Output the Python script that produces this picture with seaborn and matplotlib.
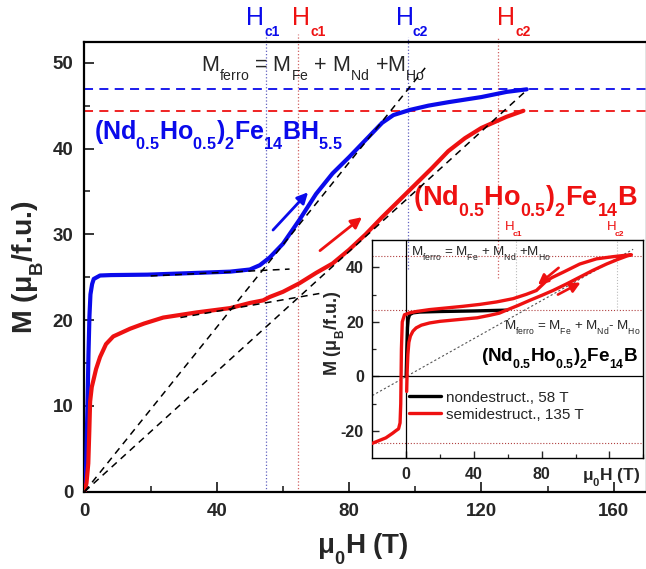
import matplotlib
matplotlib.use("Agg")
import matplotlib.pyplot as plt
from matplotlib.ticker import MultipleLocator, FixedLocator
import matplotlib._mathtext as _mt
import seaborn as sns
import pandas as pd

# Origin-style subscripts: lower and slightly smaller than matplotlib's default
_mt.FontConstantsBase.sub1 = 0.75
_mt.SHRINK_FACTOR = 0.65

# ---------------- data ----------------
blue_H = [0, 0.5, 0.9, 1.2, 1.5, 1.8, 2.3, 2.8, 4.7, 8, 19, 30, 44, 50, 53, 56, 60, 65, 70, 75,
          80, 85, 90, 93.4, 98.4, 104, 110, 120, 127.6, 133.7]
blue_M = [0, 3, 10, 16, 20.5, 23, 24.2, 24.8, 25.2, 25.25, 25.3, 25.45, 25.65, 25.9, 26.4, 27.3,
          28.9, 31.7, 34.7, 37.1, 39.0, 41.0, 43.0, 43.9, 44.5, 45.0, 45.4, 46.0, 46.6, 46.9]

red_H = [0, 0.6, 1.15, 1.45, 1.7, 2.2, 2.7, 3.5, 4.7, 6.5, 8.7, 13.8, 18, 23.8, 33.9, 44, 50, 54,
         56, 60, 65, 70, 75, 80, 85, 90, 95, 100, 105, 110, 115, 120, 127.6, 132.7]
red_M = [0, 1, 3.3, 7, 10.5, 12.2, 13.0, 14.3, 15.7, 17.2, 18.1, 19.0, 19.6, 20.3, 20.9, 21.4, 22.0,
         22.3, 22.7, 23.3, 24.3, 25.5, 26.6, 28.2, 30.0, 32.0, 33.9, 35.8, 37.7, 39.7, 41.2, 42.4,
         43.7, 44.4]

# linear extrapolations (dashed)
fitA_H = [0, 103]
fitA_M = [0, 49.4]
fitB_H = [0, 134]
fitB_M = [0, 46.9]
plateau_blue_H = [20, 62]
plateau_blue_M = [25.15, 25.95]
plateau_red_H = [29, 71]
plateau_red_M = [20.3, 23.1]

M_sat_blue = 46.9
M_sat_red = 44.4
Hc_blue = [54.8, 97.8]
Hc_red = [64.5, 125.0]

# inset
ins_black_H = [0, 0.4, 0.8, 1.2, 2, 4, 7.9, 20, 40, 59.6]
ins_black_M = [0, 10, 18, 21, 22.6, 23.3, 23.6, 23.8, 24.0, 24.3]

ins_red_H = [0.3, 0.6, 1.0, 1.6, 2.5, 4, 5.9, 9, 13.8, 20, 33.5, 42, 49.3, 55, 59.2, 66, 73, 80,
             86.7, 95, 102.5, 110, 118.3, 125, 130.2, 133,
             128, 122.3, 112.4, 102.5, 92.7, 86, 82.8, 79.9, 76.9, 71, 63.1, 53.3, 43.4, 33.5,
             23.7, 13.8, 6, 2, -1, -2.3, -2.8, -3.0, -3.2, -3.6, -4.5, -5.9, -8, -12, -16, -20]
ins_red_M = [-5.5, 2, 8, 12.5, 14.8, 16.6, 17.8, 18.8, 19.6, 20.2, 21.0, 21.5, 22.4, 23.2, 24.3,
             26.0, 27.9, 29.7, 31.5, 34.0, 36.4, 38.8, 41.2, 42.9, 44.1, 44.6,
             44.3, 43.9, 43.1, 41.2, 38.2, 36.2, 35.0, 33.3, 31.5, 30.1, 28.5, 27.3, 26.4, 25.7,
             25.1, 24.5, 23.8, 23.3, 22.6, 20, 10, 0, -10, -17, -19.2, -19.8, -20.8, -22.5, -23.5,
             -24.5]
ins_levels = [44.3, 24.2, -24.2]
ins_fit_H = [-20, 134]
ins_fit_M = [-7, 46.6]
ins_Hc = [64.6, 124.4]

legend_labels = ["nondestruct., 58 T", "semidestruct., 135 T"]
main_xticks = [0, 40, 80, 120, 160]
main_yticks = [0, 10, 20, 30, 40, 50]
ins_xticks = [0, 40, 80, 120]
ins_xticklabels = ["0", "40", "80", ""]
ins_yticks = [-20, 0, 20, 40]

# ---------------- style ----------------
sns.set_style("ticks")
plt.rcParams["font.family"] = ["Liberation Sans", "DejaVu Sans"]
plt.rcParams["mathtext.fontset"] = "custom"
plt.rcParams["mathtext.rm"] = "Liberation Sans"
plt.rcParams["mathtext.bf"] = "Liberation Sans:bold"
plt.rcParams["mathtext.it"] = "Liberation Sans:italic"
plt.rcParams["mathtext.sf"] = "Liberation Sans"

BLUE = "#0A0AEB"
RED = "#EE1111"

fig = plt.figure(figsize=(6.46, 5.69), dpi=100)
ax = fig.add_axes([0.1308, 0.1358, 0.8704, 0.7909])

# horizontal saturation levels
ax.axhline(M_sat_blue, color=BLUE, lw=1.3, ls=(0, (5, 3.5)), zorder=1)
ax.axhline(M_sat_red, color=RED, lw=1.3, ls=(0, (5, 3.5)), zorder=1)

# critical field dotted lines
ax.plot([Hc_blue[0]] * 2, [0, 53.3], color="#6060C0", lw=0.9, ls=":", clip_on=False, zorder=1)
ax.plot([Hc_red[0]] * 2, [0, 53.3], color="#D06060", lw=0.9, ls=":", clip_on=False, zorder=1)
ax.plot([Hc_blue[1]] * 2, [26.0, 53.0], color="#6060C0", lw=0.9, ls=":", clip_on=False, zorder=1)
ax.plot([Hc_red[1]] * 2, [24.9, 53.0], color="#D06060", lw=0.9, ls=":", clip_on=False, zorder=1)

# black dashed fits
for hx, my in [(fitA_H, fitA_M), (fitB_H, fitB_M), (plateau_blue_H, plateau_blue_M),
               (plateau_red_H, plateau_red_M)]:
    sns.lineplot(x=hx, y=my, ax=ax, color="black", lw=1.1, linestyle=(0, (4.5, 3.5)),
                 sort=False, estimator=None, zorder=4)

df_blue = pd.DataFrame({"H": blue_H, "M": blue_M})
df_red = pd.DataFrame({"H": red_H, "M": red_M})
sns.lineplot(data=df_blue, x="H", y="M", ax=ax, color=BLUE, lw=3.0, sort=False,
             estimator=None, zorder=3)
sns.lineplot(data=df_red, x="H", y="M", ax=ax, color=RED, lw=3.0, sort=False,
             estimator=None, zorder=3)

# arrows
ax.annotate("", xy=(67.6, 34.9), xytext=(57, 30.5),
            arrowprops=dict(arrowstyle="-|>", color=BLUE, lw=2.0, mutation_scale=16, shrinkA=0, shrinkB=0))
ax.annotate("", xy=(83.9, 32.0), xytext=(71.2, 28.1),
            arrowprops=dict(arrowstyle="-|>", color=RED, lw=2.0, mutation_scale=16, shrinkA=0, shrinkB=0))

ax.set_xlim(0, 170)
ax.set_ylim(0, 52.45)
ax.set_xticks(main_xticks)
ax.set_xticklabels([str(v) for v in main_xticks], fontweight="bold", fontsize=13.5)
ax.set_yticks(main_yticks)
ax.set_yticklabels([str(v) for v in main_yticks], fontweight="bold", fontsize=13.5)
ax.xaxis.set_minor_locator(MultipleLocator(20))
ax.yaxis.set_minor_locator(MultipleLocator(5))
ax.tick_params(which="major", direction="in", length=7, width=1.3, pad=8,
               top=False, right=False)
ax.tick_params(which="minor", direction="in", length=4, width=1.2, top=False, right=False)
for s in ax.spines.values():
    s.set_linewidth(1.6)
    s.set_color("black")

ax.set_xlabel("μ$_\\mathbf{0}$H (T)", fontsize=20, fontweight="bold")
ax.xaxis.set_label_coords(0.496, -0.089)
ax.set_ylabel("M (μ$_\\mathbf{B}$/f.u.)", fontsize=20.5, fontweight="bold")
ax.yaxis.set_label_coords(-0.068, 0.5)

# H_c labels above the axes
for xH, xc, col, sub in [(48.7, 54.3, BLUE, "c1"), (62.6, 68.2, RED, "c1"),
                         (94.1, 99.3, BLUE, "c2"), (124.8, 130.2, RED, "c2")]:
    ax.text(xH, 54.4, "H", color=col, fontsize=18, clip_on=False, va="baseline", ha="left")
    ax.text(xc, 53.1, sub, color=col, fontsize=10, fontweight="bold", clip_on=False,
            va="baseline", ha="left")

ax.text(69.1, 49.0, "M$_\\mathrm{ferro}$ = M$_\\mathrm{Fe}$ + M$_\\mathrm{Nd}$ +M$_\\mathrm{Ho}$",
        fontsize=15.5, ha="center", va="baseline")
ax.text(40.5, 41.0, "(Nd$_\\mathbf{0.5}$Ho$_\\mathbf{0.5}$)$_\\mathbf{2}$Fe$_\\mathbf{14}$BH$_\\mathbf{5.5}$",
        fontsize=18, fontweight="bold", color=BLUE, ha="center", va="baseline")
ax.text(133.4, 33.3, "(Nd$_\\mathbf{0.5}$Ho$_\\mathbf{0.5}$)$_\\mathbf{2}$Fe$_\\mathbf{14}$B",
        fontsize=19.5, fontweight="bold", color=RED, ha="center", va="baseline")

# ---------------- inset ----------------
ai = fig.add_axes([0.5763, 0.1945, 0.4195, 0.3837], facecolor="none")
for lv in ins_levels:
    ai.axhline(lv, color="#B04040", lw=0.8, ls=":", zorder=1)
for hc in ins_Hc:
    ai.plot([hc, hc], [24.2, 50], color="#BBBBBB", lw=0.8, ls=":", zorder=1)
ai.axhline(0, color="black", lw=0.9, zorder=1)
ai.axvline(0, color="black", lw=0.9, zorder=1)
sns.lineplot(x=ins_fit_H, y=ins_fit_M, ax=ai, color="#555555", lw=0.8, linestyle=(0, (2, 2)),
             sort=False, estimator=None, zorder=2)
sns.lineplot(x=ins_black_H, y=ins_black_M, ax=ai, color="black", lw=2.4, sort=False,
             estimator=None, zorder=3, label=legend_labels[0])
sns.lineplot(x=ins_red_H, y=ins_red_M, ax=ai, color=RED, lw=2.4, sort=False,
             estimator=None, zorder=4, label=legend_labels[1])

ai.annotate("", xy=(77.8, 33.6), xytext=(90.0, 39.8),
            arrowprops=dict(arrowstyle="-|>", color=RED, lw=1.9, mutation_scale=15, shrinkA=0, shrinkB=0))
ai.annotate("", xy=(103.0, 34.4), xytext=(89.6, 30.0),
            arrowprops=dict(arrowstyle="-|>", color=RED, lw=1.9, mutation_scale=15, shrinkA=0, shrinkB=0))

ai.set_xlim(-20, 140)
ai.set_ylim(-30, 50)
ai.set_xticks(ins_xticks)
ai.set_xticklabels(ins_xticklabels, fontweight="bold", fontsize=11.5)
ai.set_yticks(ins_yticks)
ai.set_yticklabels([str(v) for v in ins_yticks], fontweight="bold", fontsize=11.5)
ai.xaxis.set_minor_locator(FixedLocator([20, 60, 100, 140]))
ai.yaxis.set_minor_locator(FixedLocator([-10, 10, 30]))
ai.tick_params(which="major", direction="in", length=5, width=1.0, pad=6, top=False, right=False)
ai.tick_params(which="minor", direction="in", length=3, width=0.9, top=False, right=False)
for s in ai.spines.values():
    s.set_linewidth(1.0)
    s.set_color("black")
ai.set_xlabel("")
ai.text(0.88, -0.088, "μ$_\\mathbf{0}$H (T)", transform=ai.transAxes, fontsize=12.5,
        fontweight="bold", ha="center", va="center")
ai.set_ylabel("M (μ$_\\mathbf{B}$/f.u.)", fontsize=13, fontweight="bold")
ai.yaxis.set_label_coords(-0.092, 0.57)

leg = ai.legend(loc="upper left", bbox_to_anchor=(0.135, 0.31), frameon=False, fontsize=11,
                handlelength=2.1, handletextpad=0.35, labelspacing=0.2, borderpad=0,
                borderaxespad=0)
for ln in leg.get_lines():
    ln.set_linewidth(2.4)

ai.text(44.0, 44.3, "M$_\\mathrm{ferro}$ = M$_\\mathrm{Fe}$ + M$_\\mathrm{Nd}$ +M$_\\mathrm{Ho}$",
        fontsize=9.6, ha="center", va="baseline")
ai.text(98.0, 17.2, "M$_\\mathrm{ferro}$ = M$_\\mathrm{Fe}$ + M$_\\mathrm{Nd}$- M$_\\mathrm{Ho}$",
        fontsize=9.6, ha="center", va="baseline")
ai.text(90.7, 5.5, "(Nd$_\\mathbf{0.5}$Ho$_\\mathbf{0.5}$)$_\\mathbf{2}$Fe$_\\mathbf{14}$B",
        fontsize=13.6, fontweight="bold", color="black", ha="center", va="baseline")
for xH, sub in [(58.5, "c1"), (118.5, "c2")]:
    ai.text(xH, 53.5, "H", color=RED, fontsize=9.5, clip_on=False, va="baseline", ha="left")
    ai.text(xH + 4.3, 51.3, sub, color=RED, fontsize=6, fontweight="bold", clip_on=False,
            va="baseline", ha="left")

fig.savefig("out.png", dpi=100)
